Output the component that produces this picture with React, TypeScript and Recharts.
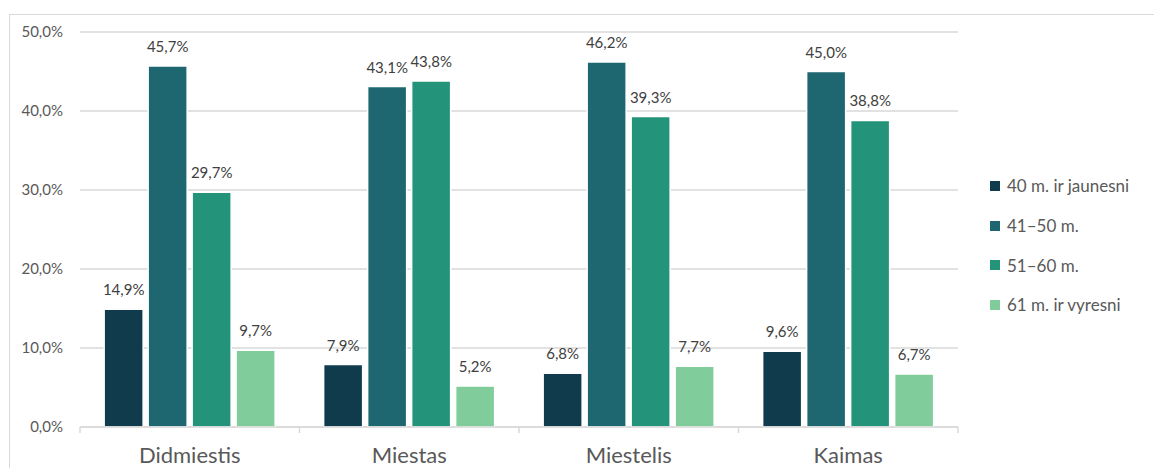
import { BarChart, Bar, XAxis, YAxis, CartesianGrid, Legend, LabelList } from 'recharts'

const categories = ['Didmiestis', 'Miestas', 'Miestelis', 'Kaimas']
const age40 = [14.9, 7.9, 6.8, 9.6]
const age41 = [45.7, 43.1, 46.2, 45.0]
const age51 = [29.7, 43.8, 39.3, 38.8]
const age61 = [9.7, 5.2, 7.7, 6.7]
const seriesNames = ['40 m. ir jaunesni', '41–50 m.', '51–60 m.', '61 m. ir vyresni']
const colors = ['#0f3b4c', '#1e6670', '#23937a', '#80cd9b']
const yTicks = [0, 10, 20, 30, 40, 50]

const data = categories.map((c, i) => ({
  name: c,
  s0: age40[i],
  s1: age41[i],
  s2: age51[i],
  s3: age61[i],
}))

const W = 1154
const H = 468
const margin = { top: 32, right: 196, left: 10, bottom: 0 }
const yAxisW = 70
const plotW = W - margin.left - margin.right - yAxisW
const halfBand = plotW / categories.length / 2
const axisY = H - 41
const font = 'Lato, "Noto Sans", sans-serif'
const fmt = (v: number) => v.toFixed(1).replace('.', ',') + '%'

function CatTick(props: any) {
  const { x, payload, index } = props
  return (
    <g>
      <line x1={x - halfBand} x2={x - halfBand} y1={axisY} y2={axisY + 6} stroke="#d9d9d9" strokeWidth={1.5} />
      {index === categories.length - 1 && (
        <line x1={x + halfBand} x2={x + halfBand} y1={axisY} y2={axisY + 6} stroke="#d9d9d9" strokeWidth={1.5} />
      )}
      <text x={x} y={axisY + 36} textAnchor="middle" fontSize={22} fill="#595959" fontFamily={font}>
        {payload.value}
      </text>
    </g>
  )
}

function LegendBox({ payload }: any) {
  return (
    <div style={{ fontFamily: font, fontSize: 17, color: '#595959' }}>
      {(payload || []).map((p: any) => (
        <div key={p.value} style={{ display: 'flex', alignItems: 'center', height: 39.7 }}>
          <span style={{ width: 10, height: 10, background: p.color, marginRight: 7, display: 'inline-block' }} />
          <span>{p.value}</span>
        </div>
      ))}
    </div>
  )
}

export default function App() {
  return (
    <div style={{ position: 'absolute', left: 0, top: 0, width: W, height: H, background: '#fff', overflow: 'hidden' }}>
      <div style={{ position: 'absolute', left: 9, top: 14, width: 1160, height: 480, border: '1.5px solid #d9d9d9' }} />
      <BarChart
        width={W}
        height={H}
        data={data}
        margin={margin}
        barCategoryGap="11%"
        barGap={5}
        style={{ fontFamily: font }}
      >
        <CartesianGrid vertical={false} stroke="#d9d9d9" strokeWidth={1.5} />
        <XAxis
          dataKey="name"
          height={41}
          axisLine={{ stroke: '#d9d9d9', strokeWidth: 1.5 }}
          tickLine={false}
          tick={<CatTick />}
          interval={0}
        />
        <YAxis
          width={yAxisW}
          domain={[0, 50]}
          ticks={yTicks}
          axisLine={false}
          tickLine={false}
          tickSize={0}
          tickMargin={17}
          tickFormatter={(v: number) => fmt(v)}
          tick={{ fontSize: 15, fill: '#595959', fontFamily: font }}
        />
        <Legend
          layout="vertical"
          align="center"
          verticalAlign="middle"
          wrapperStyle={{ left: 990, top: 166, width: 170 }}
          content={<LegendBox />}
        />
        {['s0', 's1', 's2', 's3'].map((k, i) => (
          <Bar
            key={k}
            dataKey={k}
            name={seriesNames[i]}
            fill={colors[i]}
            stroke="#fff"
            strokeWidth={1.5}
            isAnimationActive={false}
          >
            <LabelList
              dataKey={k}
              position="top"
              offset={14}
              formatter={(v: any) => fmt(Number(v))}
              style={{ fontSize: 15, fill: '#404040', fontFamily: font }}
            />
          </Bar>
        ))}
      </BarChart>
    </div>
  )
}
